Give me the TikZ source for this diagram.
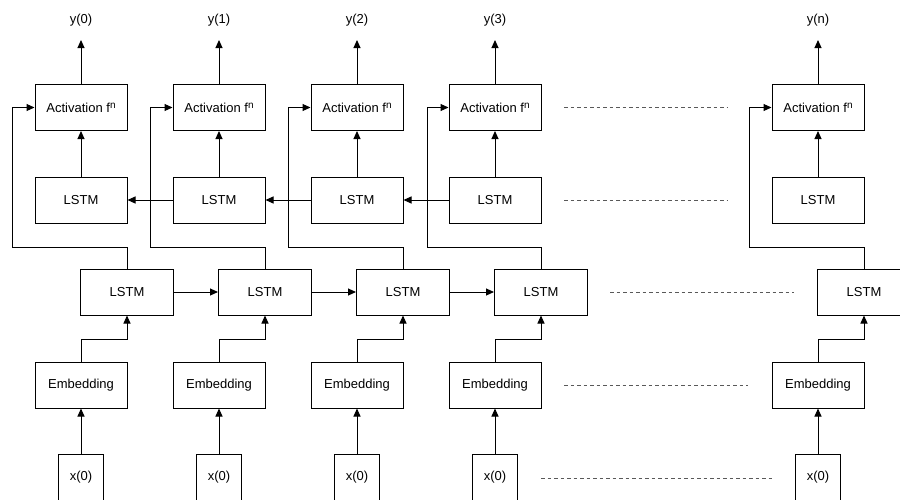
\documentclass[tikz,border=0pt]{standalone}
\usepackage{fontspec}
\setmainfont{Liberation Sans}
\usetikzlibrary{arrows.meta}
\begin{document}
\begin{tikzpicture}[x=1pt,y=-1pt,
  box/.style={draw,line width=1pt,minimum width=92pt,minimum height=46pt,inner sep=0pt,font=\fontsize{13}{15}\selectfont},
  xbox/.style={box,minimum width=45pt},
  lbl/.style={inner sep=0pt,font=\fontsize{13}{15}\selectfont},
  conn/.style={line width=1pt,-{Triangle[length=8pt,width=7pt]}},
  dots/.style={line width=0.8pt,dash pattern=on 3.5pt off 3pt,gray!70!black}]
\useasboundingbox (0,0) rectangle (900,499);
\clip (0,0) rectangle (900,499);
\foreach \i/\cx/\lx/\fx in {0/81/127/12,1/219/265/150,2/357/403/288,3/495/541/427,4/818/864/749}{
  \node[box] (act\i) at (\cx,107.5) {Activation f\raisebox{0.5ex}{\fontsize{10}{12}\selectfont n}};
  \node[box] (up\i) at (\cx,200) {LSTM};
  \node[box,minimum width=93pt] (lo\i) at (\lx,292) {LSTM};
  \node[box] (emb\i) at (\cx,385) {Embedding};
  \node[xbox] (x\i) at (\cx,477) {x(0)};
  \coordinate (yt\i) at (\cx,40);
  \coordinate (fa\i) at (\lx,247);
  \coordinate (fb\i) at (\fx,247);
  \coordinate (fc\i) at (\fx,107.5);
  \coordinate (ea\i) at (\cx,339);
  \coordinate (eb\i) at (\lx,339);
  \draw[conn] (act\i.north) -- (yt\i);
  \draw[conn] (up\i.north) -- (act\i.south);
  \draw[conn] (lo\i.north) -- (fa\i) -- (fb\i) -- (fc\i) -- (act\i.west);
  \draw[conn] (emb\i.north) -- (ea\i) -- (eb\i) -- (lo\i.south);
  \draw[conn] (x\i.north) -- (emb\i.south);
}
\node[lbl] (y0) at (81,20) {y(0)};
\node[lbl] (y1) at (219,20) {y(1)};
\node[lbl] (y2) at (357,20) {y(2)};
\node[lbl] (y3) at (495,20) {y(3)};
\node[lbl] (y4) at (818,20) {y(n)};
\draw[conn] (up1.west) -- (up0.east);
\draw[conn] (up2.west) -- (up1.east);
\draw[conn] (up3.west) -- (up2.east);
\draw[conn] (lo0.east) -- (lo1.west);
\draw[conn] (lo1.east) -- (lo2.west);
\draw[conn] (lo2.east) -- (lo3.west);
\coordinate (d1a) at (564,107.5); \coordinate (d1b) at (727,107.5);
\coordinate (d2a) at (564,200); \coordinate (d2b) at (727,200);
\coordinate (d3a) at (610,292); \coordinate (d3b) at (794,292);
\coordinate (d4a) at (564,385); \coordinate (d4b) at (748,385);
\coordinate (d5a) at (541,478); \coordinate (d5b) at (773,478);
\draw[dots] (d1a) -- (d1b);
\draw[dots] (d2a) -- (d2b);
\draw[dots] (d3a) -- (d3b);
\draw[dots] (d4a) -- (d4b);
\draw[dots] (d5a) -- (d5b);
\end{tikzpicture}
\end{document}
